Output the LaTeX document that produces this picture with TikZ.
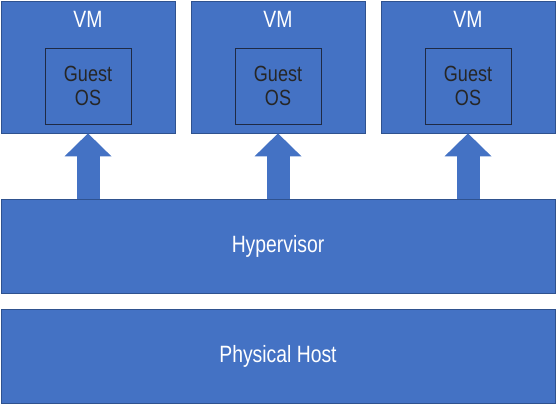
\documentclass[tikz,border=0pt]{standalone}
\usepackage{fontspec}
\setmainfont{Liberation Sans}[FakeStretch=0.82]
\usetikzlibrary{arrows.meta}
\definecolor{vmblue}{HTML}{4472C4}
\definecolor{vmedge}{HTML}{2F528F}
\definecolor{osedge}{HTML}{1F2A44}
\begin{document}
\begin{tikzpicture}[x=1pt, y=1pt,
    vmbox/.style={draw=vmedge, fill=vmblue, line width=0.8pt,
                  minimum width=174pt, minimum height=132pt, inner sep=0pt},
    osbox/.style={draw=osedge, line width=0.8pt, align=center,
                  minimum width=86pt, minimum height=76pt, inner sep=0pt,
                  text=black!85, font=\fontsize{22}{24}\selectfont},
    vmlabel/.style={text=white, inner sep=0pt, font=\fontsize{23.6}{28}\selectfont},
    layer/.style={draw=vmedge, fill=vmblue, line width=0.8pt,
                  minimum width=554pt, minimum height=94pt, inner sep=0pt,
                  text=white, font=\fontsize{23.6}{28}\selectfont},
    uparr/.style={draw=vmblue, line width=23pt,
                  -{Triangle[width=47pt 0 0, length=23pt 0 0, line width=0pt 0 0]}}
]
  \useasboundingbox (0,0) rectangle (556,404);

  % Layers
  \node[layer] (hyp) at (278,158) {Hypervisor};
  \node[layer] (host) at (278,48) {Physical Host};

  % Virtual machines
  \foreach \name/\xc in {vmA/88, vmB/278, vmC/468} {
    \node[vmbox] (\name) at (\xc,337) {};
    \node[vmlabel] (\name lab) at ([yshift=-19pt]\name.north) {VM};
    \node[osbox] (\name os) at ([yshift=-19pt]\name.center) {Guest\\OS};
    \draw[uparr] (hyp.north -| \name.south) -- (\name.south);
  }
\end{tikzpicture}
\end{document}
